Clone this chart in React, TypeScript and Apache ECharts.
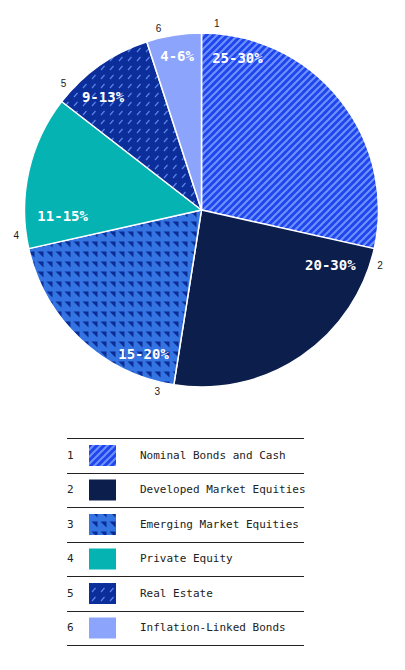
import React, { useEffect, useRef } from "react";
import * as echarts from "echarts";

const assetNames = [
  "Nominal Bonds and Cash",
  "Developed Market Equities",
  "Emerging Market Equities",
  "Private Equity",
  "Real Estate",
  "Inflation-Linked Bonds",
];
const shares = [28.5, 24, 19, 14, 9.5, 5];
const rangeLabels = ["25-30%", "20-30%", "15-20%", "11-15%", "9-13%", "4-6%"];

const CENTER = [201.5, 210];
const RADIUS = 177;
const POLAR_R = 200; // 1 radius unit = 1px
// where each range label sits: share units past the slice start, and radius in px
const rangeLead = [3.7, 2.9, 3.6, 2.8, 3.1, 2.5];
const rangeRadius = [156, 140, 155, 139, 150, 156];

type Draw = (ctx: CanvasRenderingContext2D) => void;

function tile(w: number, h: number, bg: string, draw?: Draw) {
  const c = document.createElement("canvas");
  c.width = w;
  c.height = h;
  const ctx = c.getContext("2d")!;
  ctx.fillStyle = bg;
  ctx.fillRect(0, 0, w, h);
  if (draw) draw(ctx);
  return { image: c, repeat: "repeat", imageWidth: w, imageHeight: h };
}

function makeFills(): any[] {
  const stripes = tile(7, 7, "#1f46ee", (ctx) => {
    ctx.strokeStyle = "#6f92ff";
    ctx.lineWidth = 2;
    for (const c of [0, 7, 14]) {
      ctx.beginPath();
      ctx.moveTo(c - 8, 8);
      ctx.lineTo(c + 1, -1);
      ctx.stroke();
    }
  });
  const triangles = tile(9, 10, "#3473e2", (ctx) => {
    ctx.fillStyle = "#0a2c93";
    ctx.beginPath();
    ctx.moveTo(1.5, 1.5);
    ctx.lineTo(7.5, 1.5);
    ctx.lineTo(7.5, 7.5);
    ctx.closePath();
    ctx.fill();
  });
  const dashes = tile(9, 9, "#0b2e9a", (ctx) => {
    ctx.strokeStyle = "#5d84ec";
    ctx.lineWidth = 1.2;
    ctx.beginPath();
    ctx.moveTo(2, 7);
    ctx.lineTo(5.5, 3);
    ctx.stroke();
  });
  return [stripes, "#0b1e4c", triangles, "#05b3b3", dashes, "#8ca4fb"];
}

export default function App() {
  const chartRef = useRef<HTMLDivElement>(null);

  useEffect(() => {
    if (!chartRef.current) return;
    const chart = echarts.init(chartRef.current, null, { renderer: "svg" });
    const fills = makeFills();

    const starts: number[] = [];
    shares.reduce((acc, v) => {
      starts.push(acc);
      return acc + v;
    }, 0);
    const total = shares.reduce((a, b) => a + b, 0);

    const rowH = 34.5;
    const top0 = 438;
    const legend: any[] = [];
    for (let i = 0; i <= assetNames.length; i++) {
      const y = Math.round(top0 + i * rowH) + 0.5;
      legend.push({
        type: "line",
        shape: { x1: 67, y1: y, x2: 304, y2: y },
        style: { stroke: "#222", lineWidth: 1 },
        silent: true,
      });
    }
    assetNames.forEach((name, i) => {
      const yTop = top0 + i * rowH;
      const yMid = yTop + rowH / 2;
      legend.push({
        type: "text",
        x: 67,
        y: yMid,
        style: { text: String(i + 1), fill: "#222", font: '11px "DejaVu Sans Mono"', verticalAlign: "middle" },
      });
      legend.push({
        type: "rect",
        shape: { x: 89, y: yTop + 7, width: 27, height: 21 },
        style: { fill: fills[i] },
      });
      legend.push({
        type: "text",
        x: 140,
        y: yMid,
        style: { text: name, fill: "#222", font: '11px "DejaVu Sans Mono"', verticalAlign: "middle" },
      });
    });

    const hiddenAxis = {
      axisLine: { show: false },
      axisTick: { show: false },
      axisLabel: { show: false },
      splitLine: { show: false },
    };
    const labelSeries = (label: any, data: number[][]) => ({
      type: "scatter",
      coordinateSystem: "polar",
      symbolSize: 0,
      silent: true,
      z: 5,
      itemStyle: { color: "transparent", opacity: 1 },
      label: { show: true, position: "inside", textBorderWidth: 0, opacity: 1, ...label },
      data,
    });

    chart.setOption({
      animation: false,
      polar: { center: CENTER, radius: POLAR_R },
      angleAxis: { type: "value", min: 0, max: total, startAngle: 90, clockwise: true, ...hiddenAxis },
      radiusAxis: { type: "value", min: 0, max: POLAR_R, ...hiddenAxis },
      series: [
        {
          type: "pie",
          center: CENTER,
          radius: RADIUS,
          startAngle: 90,
          clockwise: true,
          silent: true,
          label: { show: false },
          labelLine: { show: false },
          itemStyle: { borderColor: "#fff", borderWidth: 1.5 },
          data: shares.map((v, i) => ({ name: assetNames[i], value: v, itemStyle: { color: fills[i] } })),
        },
        labelSeries(
          {
            color: "#ffffff",
            fontSize: 14,
            fontWeight: "bold",
            fontFamily: "DejaVu Sans Mono",
            formatter: (p: any) => rangeLabels[p.dataIndex],
          },
          starts.map((s, i) => [rangeRadius[i], s + rangeLead[i]])
        ),
        labelSeries(
          {
            color: "#1a1a1a",
            fontSize: 10,
            fontFamily: "Liberation Sans",
            formatter: (p: any) => String(p.dataIndex + 1),
          },
          starts.map((s) => [187, s + 1.3])
        ),
      ],
      graphic: { elements: legend },
    });

    return () => chart.dispose();
  }, []);

  return (
    <div
      ref={chartRef}
      style={{ position: "fixed", left: 0, top: 0, width: 405, height: 670, background: "#fff" }}
    />
  );
}
